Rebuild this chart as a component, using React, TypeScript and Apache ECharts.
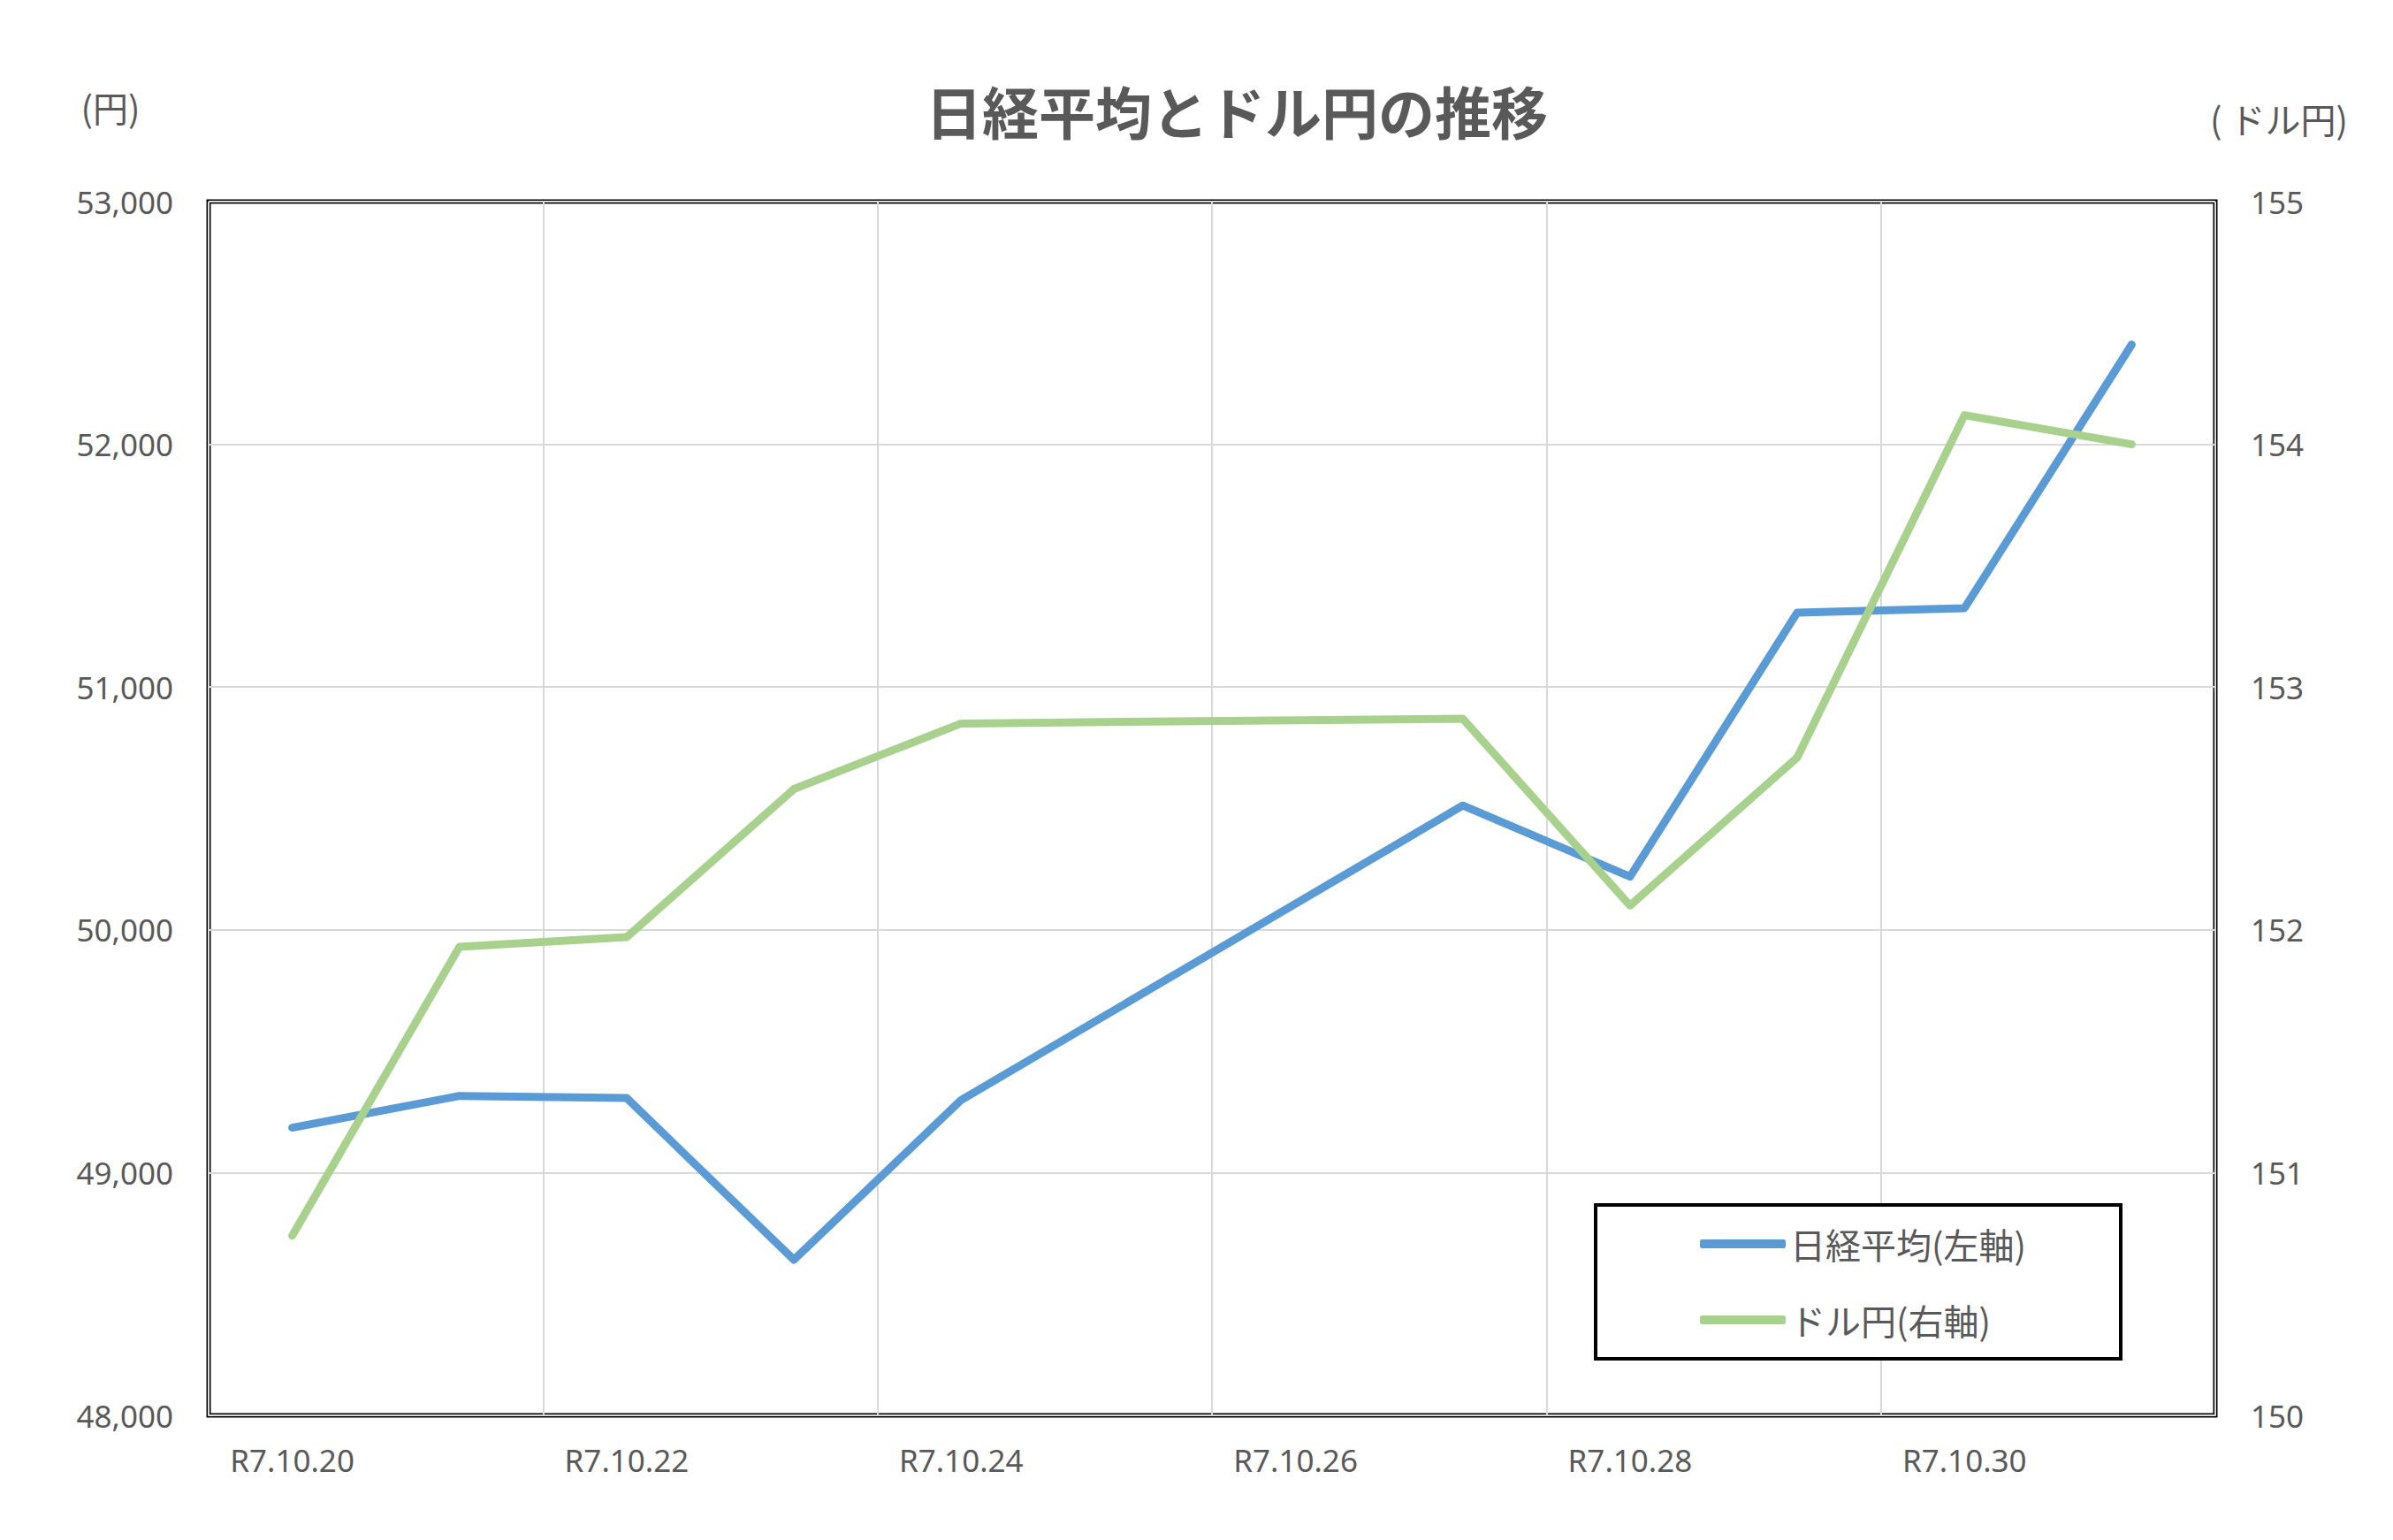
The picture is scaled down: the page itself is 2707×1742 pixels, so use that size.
import { useEffect, useRef } from "react";
import * as echarts from "echarts";

const dates = [
  "R7.10.20", "R7.10.21", "R7.10.22", "R7.10.23", "R7.10.24", "R7.10.25",
  "R7.10.26", "R7.10.27", "R7.10.28", "R7.10.29", "R7.10.30", "R7.10.31",
];
// weekend days have no value; the line joins across them
const nikkei = [49185, 49316, 49307, 48641, 49299, null, null, 50512, 50219, 51307, 51325, 52411];
const usdJpy = [150.74, 151.93, 151.97, 152.58, 152.85, null, null, 152.87, 152.1, 152.71, 154.12, 154.0];

const title = "日経平均とドル円の推移";
const seriesNames = ["日経平均(左軸)", "ドル円(右軸)"];
const leftUnit = "(円)";
const rightUnit = "( ドル円)";

const BLUE = "#5B9BD5";
const GREEN = "#A9D18E";
const TEXT = "#595959";
const GRID = "#D9D9D9";
const NUM_FONT = "'Noto Sans', 'Noto Sans CJK JP', sans-serif";
const JP_FONT = "'Noto Sans CJK JP', sans-serif";

export default function App() {
  const ref = useRef<HTMLDivElement>(null);

  useEffect(() => {
    document.body.style.margin = "0";
    if (!ref.current) return;
    const chart = echarts.init(ref.current, null, { renderer: "svg" });

    chart.setOption({
      animation: false,
      backgroundColor: "#fff",
      title: {
        text: title,
        left: 1394,
        top: 87,
        textAlign: "center",
        textStyle: { fontSize: 64, fontWeight: "bold", color: TEXT, fontFamily: JP_FONT },
      },
      grid: {
        left: 236,
        right: 201,
        top: 228,
        bottom: 141,
        show: true,
        borderColor: "#000",
        borderWidth: 5,
        backgroundColor: "transparent",
      },
      legend: {
        orient: "vertical",
        left: 1918,
        top: 1381,
        icon: "roundRect",
        itemWidth: 97,
        itemHeight: 10,
        itemGap: 44,
        textStyle: { fontSize: 40, lineHeight: 42, color: TEXT, fontFamily: JP_FONT },
        data: seriesNames,
        z: 10,
      },
      graphic: [
        {
          type: "rect",
          z: 5,
          shape: { x: 1805, y: 1363, width: 594, height: 174 },
          style: { fill: "#fff", stroke: "#000", lineWidth: 4 },
        },
        {
          type: "text",
          x: 125,
          y: 121,
          style: {
            text: leftUnit,
            fontSize: 40,
            fill: TEXT,
            fontFamily: JP_FONT,
            textAlign: "center",
            textVerticalAlign: "middle",
          },
        },
        {
          type: "text",
          x: 2578,
          y: 134,
          style: {
            text: rightUnit,
            fontSize: 40,
            fill: TEXT,
            fontFamily: JP_FONT,
            textAlign: "center",
            textVerticalAlign: "middle",
          },
        },
      ],
      xAxis: {
        type: "category",
        data: dates,
        boundaryGap: true,
        axisLine: { lineStyle: { color: GRID, width: 2 } },
        axisTick: { interval: 1, length: 10, lineStyle: { color: GRID, width: 2 } },
        axisLabel: {
          interval: 1,
          margin: 33,
          fontSize: 35,
          color: TEXT,
          fontFamily: NUM_FONT,
        },
        splitLine: { show: true, interval: 1, lineStyle: { color: GRID, width: 2 } },
      },
      yAxis: [
        {
          type: "value",
          min: 48000,
          max: 53000,
          interval: 1000,
          axisLine: { show: false },
          axisTick: { show: false },
          axisLabel: {
            margin: 40,
            fontSize: 35,
            color: TEXT,
            fontFamily: NUM_FONT,
            formatter: (v: number) => v.toLocaleString("en-US"),
          },
          splitLine: { lineStyle: { color: GRID, width: 2 } },
        },
        {
          type: "value",
          min: 150,
          max: 155,
          interval: 1,
          axisLine: { show: false },
          axisTick: { show: false },
          axisLabel: { margin: 40, fontSize: 35, color: TEXT, fontFamily: NUM_FONT },
          splitLine: { show: false },
        },
      ],
      series: [
        {
          name: seriesNames[0],
          type: "line",
          yAxisIndex: 0,
          data: nikkei,
          connectNulls: true,
          symbol: "none",
          itemStyle: { color: BLUE },
          lineStyle: { color: BLUE, width: 9, cap: "round", join: "round" },
          z: 3,
        },
        {
          name: seriesNames[1],
          type: "line",
          yAxisIndex: 1,
          data: usdJpy,
          connectNulls: true,
          symbol: "none",
          itemStyle: { color: GREEN },
          lineStyle: { color: GREEN, width: 9, cap: "round", join: "round" },
          z: 3,
        },
      ],
    });

    return () => {
      chart.dispose();
    };
  }, []);

  return <div ref={ref} style={{ width: "2707px", height: "1742px" }} />;
}
